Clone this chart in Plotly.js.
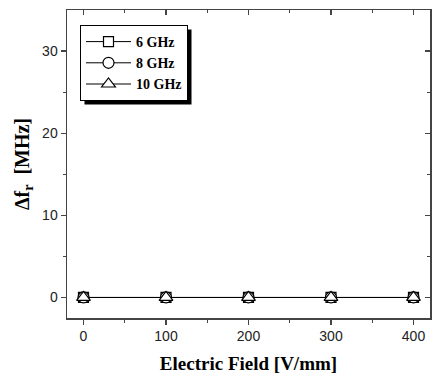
<!DOCTYPE html>
<html>
<head>
<meta charset="utf-8">
<script src="https://cdn.plot.ly/plotly-3.0.1.min.js"></script>
<style>html,body{margin:0;padding:0;background:#fff;}#chart{width:432px;height:374px;}</style>
</head>
<body>
<div id="chart"></div>
<script>
// Data
var field = [0, 100, 200, 300, 400];
var shift6GHz = [0, 0, 0, 0, 0];
var shift8GHz = [0, 0, 0, 0, 0];
var shift10GHz = [0, 0, 0, 0, 0];
var seriesNames = ['6 GHz', '8 GHz', '10 GHz'];
var xTicks = [0, 100, 200, 300, 400];
var yTicks = [0, 10, 20, 30];

var W = 432, H = 374;
var L = 67, R = 2, T = 10, B = 56;
var pw = W - L - R, ph = H - T - B;
function px2x(p){ return (p - L) / pw; }
function py2y(p){ return (H - B - p) / ph; }

var lineStyle = {color: '#000', width: 1};
function mk(sym, size){ return {symbol: sym, size: size, color: '#fff', line: {color: '#000', width: 1.2}}; }

var traces = [
  {x: field, y: shift6GHz, name: seriesNames[0], mode: 'lines+markers', line: lineStyle, marker: mk('square', 10), type: 'scatter'},
  {x: field, y: shift8GHz, name: seriesNames[1], mode: 'lines+markers', line: lineStyle, marker: mk('circle', 11), type: 'scatter'},
  {x: field, y: shift10GHz, name: seriesNames[2], mode: 'lines+markers', line: lineStyle, marker: mk('triangle-up', 12), type: 'scatter'},
  {x: [], y: [], xaxis: 'x2', yaxis: 'y2', showlegend: false, hoverinfo: 'skip', type: 'scatter'}
];

var axisColor = '#444';
var tickFont = {family: 'Liberation Sans, Arial, sans-serif', size: 14, color: '#222'};
var xTitleFont = {family: 'Liberation Serif, Times New Roman, serif', size: 19, color: '#000', weight: 700};
var yTitleFont = {family: 'Liberation Serif, Times New Roman, serif', size: 20, color: '#000', weight: 700};

var layout = {
  width: W, height: H,
  margin: {l: L, r: R, t: T, b: B, pad: 0},
  paper_bgcolor: '#fff', plot_bgcolor: '#fff',
  showlegend: true,
  xaxis: {
    range: [-20, 420], tickvals: xTicks, ticktext: xTicks.map(String),
    showgrid: false, zeroline: false, showline: true, linecolor: axisColor, linewidth: 1.5,
    ticks: 'outside', ticklen: 5, tickwidth: 1.2, tickcolor: axisColor, tickfont: tickFont,
    minor: {tickvals: [50, 150, 250, 350], ticks: 'outside', ticklen: 3, tickwidth: 1.2, tickcolor: axisColor},
    title: {text: 'Electric Field [V/mm]', font: xTitleFont, standoff: 13}
  },
  yaxis: {
    range: [-2.5, 35], tickvals: yTicks, ticktext: yTicks.map(String),
    showgrid: false, zeroline: false, showline: true, linecolor: axisColor, linewidth: 1.5,
    ticks: 'outside', ticklen: 5, tickwidth: 1.2, tickcolor: axisColor, tickfont: tickFont,
    minor: {tickvals: [5, 15, 25], ticks: 'outside', ticklen: 3, tickwidth: 1.2, tickcolor: axisColor},
    title: {text: 'Δf<sub>r</sub>  [MHz]', font: yTitleFont, standoff: 7}
  },
  xaxis2: {
    overlaying: 'x', side: 'top', matches: 'x', anchor: 'y2',
    showticklabels: false, showgrid: false, zeroline: false, showline: true, linecolor: axisColor, linewidth: 1.5,
    tickvals: xTicks, ticks: 'inside', ticklen: 5, tickwidth: 1.2, tickcolor: axisColor,
    minor: {tickvals: [50, 150, 250, 350], ticks: 'inside', ticklen: 3, tickwidth: 1.2, tickcolor: axisColor}
  },
  yaxis2: {
    overlaying: 'y', side: 'right', matches: 'y', anchor: 'x2',
    showticklabels: false, showgrid: false, zeroline: false, showline: true, linecolor: axisColor, linewidth: 1.5,
    tickvals: yTicks, ticks: 'inside', ticklen: 5, tickwidth: 1.2, tickcolor: axisColor,
    minor: {tickvals: [5, 15, 25], ticks: 'inside', ticklen: 3, tickwidth: 1.2, tickcolor: axisColor}
  },
  legend: {
    x: px2x(80), y: py2y(25), xanchor: 'left', yanchor: 'top',
    bgcolor: '#fff', bordercolor: '#000', borderwidth: 1,
    itemwidth: 45,
    font: {family: 'Liberation Serif, Times New Roman, serif', size: 14, color: '#000', weight: 700},
    tracegroupgap: 0
  }
};

Plotly.newPlot('chart', traces, layout, {staticPlot: true, displayModeBar: false}).then(function(gd){
  // drop shadow sized from the legend box actually drawn
  var bg = gd.querySelector('.legend .bg');
  var root = gd.getBoundingClientRect();
  var b = bg.getBoundingClientRect();
  var off = 4;
  var x0 = b.left - root.left + off, x1 = b.right - root.left + off;
  var y0 = b.top - root.top + off, y1 = b.bottom - root.top + off;
  return Plotly.relayout(gd, {shapes: [{
    type: 'rect', xref: 'paper', yref: 'paper',
    x0: px2x(x0), x1: px2x(x1), y0: py2y(y1), y1: py2y(y0),
    fillcolor: '#000', line: {width: 0}, layer: 'above'
  }]});
});
</script>
</body>
</html>
